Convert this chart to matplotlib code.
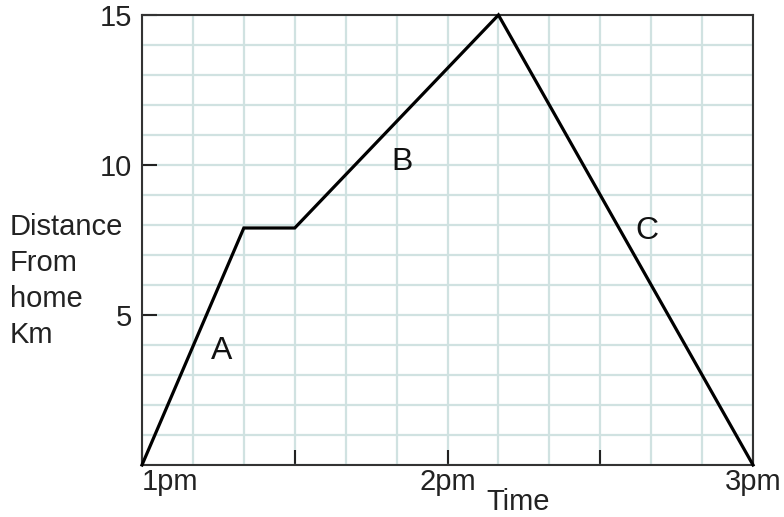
import numpy as np
import matplotlib
matplotlib.use('Agg')
import matplotlib.pyplot as plt

plt.rcParams['font.family'] = ['Liberation Sans', 'DejaVu Sans']

# minutes after 1pm, distance from home in km
times = [0, 20, 30, 70, 120]
distance = [0, 7.9, 7.9, 15, 0]

seg_labels = ['A', 'B', 'C']
seg_x = [15.7, 51.1, 99.2]
seg_y = [3.8, 10.1, 7.8]

xtick_pos = [0, 30, 60, 90, 120]
xtick_labels = ['1pm', '', '2pm', '', '3pm']
ytick_pos = [5, 10, 15]
ylabel_lines = ['Distance', 'From', 'home', 'Km']

fig = plt.figure(figsize=(7.84, 5.17), dpi=100)
ax = fig.add_axes([0.1811, 0.1006, 0.7794, 0.8704])

ax.plot(times, distance, color='black', lw=2.3, solid_joinstyle='miter', zorder=3,
        clip_on=False)

for s, x, y in zip(seg_labels, seg_x, seg_y):
    ax.text(x, y, s, fontsize=23, ha='center', va='center', color='#111111')

ax.set_xlim(0, 120)
ax.set_ylim(0, 15)
ax.set_xticks(xtick_pos)
ax.set_xticklabels(xtick_labels)
ax.set_xticks(np.arange(0, 121, 10), minor=True)
ax.set_yticks(ytick_pos)
ax.set_yticks(np.arange(0, 16, 1), minor=True)

ax.grid(which='both', color='#d0e2e1', lw=1.6, zorder=0)
ax.set_axisbelow(True)

ax.tick_params(which='major', direction='in', length=11, width=1.5, color='#222222',
               labelsize=21, labelcolor='#222222')
ax.tick_params(axis='y', which='major', pad=7)
ax.tick_params(axis='x', which='major', pad=2)
ax.tick_params(which='minor', length=0)
ax.get_xticklabels()[0].set_ha('left')
ax.get_xticklabels()[0].set_x(-0.8)

for sp in ax.spines.values():
    sp.set_color('#333333')
    sp.set_linewidth(1.5)

fig.text(518 / 784, 1 / 517, 'Time', fontsize=21, ha='center', va='bottom',
         color='#222222')
for i, line in enumerate(ylabel_lines):
    fig.text(10 / 784, 1 - (235 + 36 * i) / 517, line, fontsize=21,
             ha='left', va='baseline', color='#222222')

fig.savefig('out.png', dpi=100)
